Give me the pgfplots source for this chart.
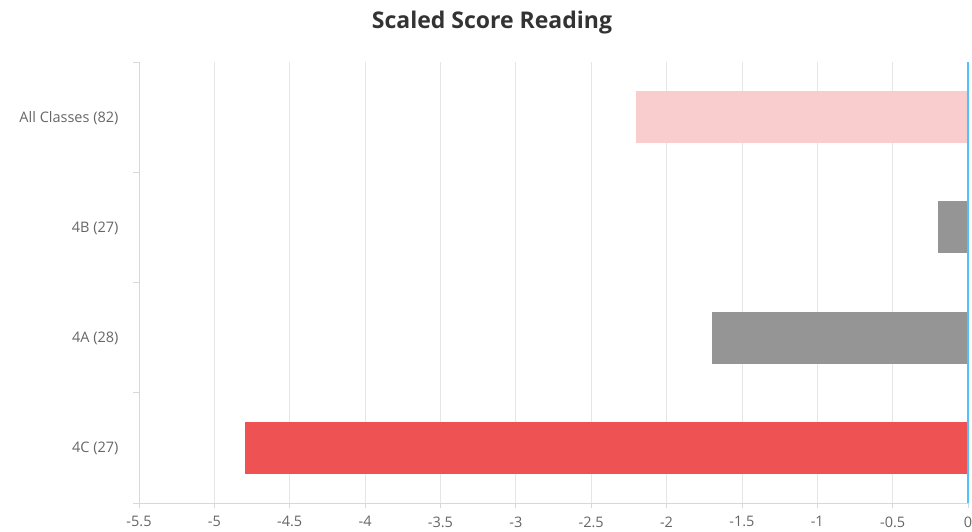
\documentclass[border=0pt]{standalone}
\usepackage{pgfplots}
\pgfplotsset{compat=1.18}
\usepackage{fontspec}
\setmainfont{Open Sans}
\definecolor{pinkbar}{HTML}{F9CCCD}
\definecolor{greybar}{HTML}{959595}
\definecolor{redbar}{HTML}{EE5253}
\definecolor{zeroline}{HTML}{4FC3F7}
\definecolor{gridc}{HTML}{E6E6E6}
\definecolor{axisc}{HTML}{D8D8D8}
\definecolor{labc}{HTML}{666666}
\definecolor{titlec}{HTML}{333333}
\begin{document}
\begin{tikzpicture}[x=1pt,y=1pt]
\useasboundingbox (0,0) rectangle (972,-531);
\node[font=\fontsize{23}{26}\selectfont\bfseries, text=titlec] at (492,-23) {Scaled Score Reading};
\begin{axis}[
  at={(139pt,-503pt)}, anchor=south west,
  scale only axis, width=829pt, height=441pt,
  xmin=-5.5, xmax=0, ymin=-0.5, ymax=3.5,
  xtick={-5.5,-5,-4.5,-4,-3.5,-3,-2.5,-2,-1.5,-1,-0.5,0},
  xticklabels={-5.5,-5,-4.5,-4,-3.5,-3,-2.5,-2,-1.5,-1,-0.5,0},
  ytick={0,1,2,3},
  yticklabels={4C (27),4A (28),4B (27),All Classes (82)},
  minor ytick={-0.5,0.5,1.5,2.5,3.5},
  xmajorgrids, major grid style={gridc, line width=0.8pt},
  minor y grid style={draw=none},
  axis x line*=bottom, axis y line*=left,
  axis line style={axisc, line width=0.8pt},
  tick align=outside,
  major x tick style={axisc, line width=0.8pt},
  major tick length=5pt,
  major y tick style={draw=none},
  minor tick length=6pt,
  minor tick style={axisc, line width=0.8pt},
  x tick label style={font=\fontsize{14.5}{16}\selectfont, text=labc, yshift=-5pt},
  y tick label style={font=\fontsize{14.5}{16}\selectfont, text=labc, xshift=-12pt, yshift=-1pt},
  /pgf/number format/assume math mode=true,
  xbar, bar width=52pt, bar shift=0pt,
  clip=false,
]
\addplot[fill=pinkbar, draw=none] coordinates {(-2.2,3)};
\addplot[fill=greybar, draw=none] coordinates {(-0.2,2)};
\addplot[fill=greybar, draw=none] coordinates {(-1.7,1)};
\addplot[fill=redbar, draw=none] coordinates {(-4.8,0)};
\addplot[sharp plot, zeroline, line width=1.6pt, mark=none] coordinates {(0,-0.5) (0,3.5)};
\end{axis}
\end{tikzpicture}
\end{document}
